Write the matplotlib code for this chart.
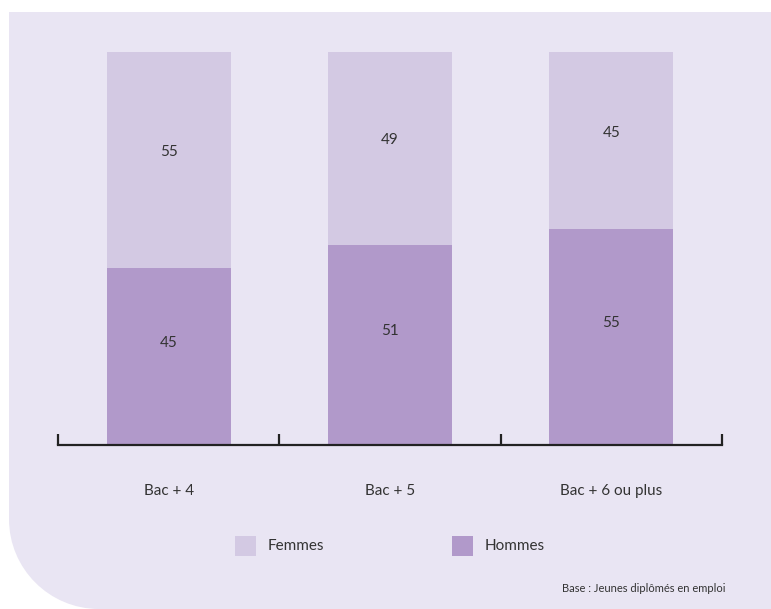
import matplotlib.pyplot as plt
import numpy as np
from matplotlib.patches import PathPatch, Rectangle
from matplotlib.path import Path

# share of young graduates in work, by diploma level
categories = ['Bac + 4', 'Bac + 5', 'Bac + 6 ou plus']
hommes = [45, 51, 55]
femmes = [55, 49, 45]

bg_color = '#e9e5f3'
femmes_color = '#d3c9e3'
hommes_color = '#b199ca'
text_color = '#333333'

plt.rcParams['font.family'] = ['Lato', 'DejaVu Sans']

W, H = 771, 609
fig = plt.figure(figsize=(W / 100, H / 100), dpi=100)
fig.patch.set_facecolor('white')

# background panel in pixel coords, rounded bottom-left corner
bg = fig.add_axes([0, 0, 1, 1])
bg.set_xlim(0, W)
bg.set_ylim(H, 0)
bg.axis('off')
left, top, r = 9, 12, 90
k = 0.5523 * r
verts = [(left, top), (W, top), (W, H), (left + r, H),
         (left + r - k, H), (left, H - r + k), (left, H - r),
         (left, top)]
codes = [Path.MOVETO, Path.LINETO, Path.LINETO, Path.LINETO,
         Path.CURVE4, Path.CURVE4, Path.CURVE4, Path.CLOSEPOLY]
bg.add_patch(PathPatch(Path(verts, codes), facecolor=bg_color, edgecolor='none'))

# legend and footnote
bg.add_patch(Rectangle((235, 536), 21, 20, facecolor=femmes_color, edgecolor='none'))
bg.text(268, 546, 'Femmes', fontsize=11, color=text_color, va='center', ha='left')
bg.add_patch(Rectangle((452, 536), 21, 20, facecolor=hommes_color, edgecolor='none'))
bg.text(485, 546, 'Hommes', fontsize=11, color=text_color, va='center', ha='left')
bg.text(726, 588, 'Base : Jeunes diplômés en emploi', fontsize=8, color=text_color,
        va='center', ha='right')

# main chart
ax = fig.add_axes([58 / W, (H - 445) / H, 664 / W, 393 / H])
ax.patch.set_alpha(0)
x = np.arange(len(categories))
width = 0.56
ax.bar(x, hommes, width, color=hommes_color, zorder=2)
ax.bar(x, femmes, width, bottom=hommes, color=femmes_color, zorder=2)

for i in range(len(categories)):
    ax.text(x[i], hommes[i] / 2 + 3.5, str(hommes[i]), ha='center', va='center',
            fontsize=11, color=text_color)
    ax.text(x[i], hommes[i] + femmes[i] / 2 + 2, str(femmes[i]), ha='center', va='center',
            fontsize=11, color=text_color)

ax.set_xlim(-0.5, len(categories) - 0.5)
ax.set_ylim(0, 100)
for s in ['top', 'right', 'left']:
    ax.spines[s].set_visible(False)
ax.spines['bottom'].set_color('#222222')
ax.spines['bottom'].set_linewidth(1.6)
ax.set_yticks([])
ax.set_xticks(x)
ax.set_xticklabels(categories, fontsize=11, color=text_color)
ax.tick_params(axis='x', which='major', length=0, pad=28)
ax.set_xticks(np.arange(-0.5, len(categories)), minor=True)
ax.tick_params(axis='x', which='minor', direction='in', length=8, width=1.6, color='#222222')

fig.savefig('out.png', dpi=100)
